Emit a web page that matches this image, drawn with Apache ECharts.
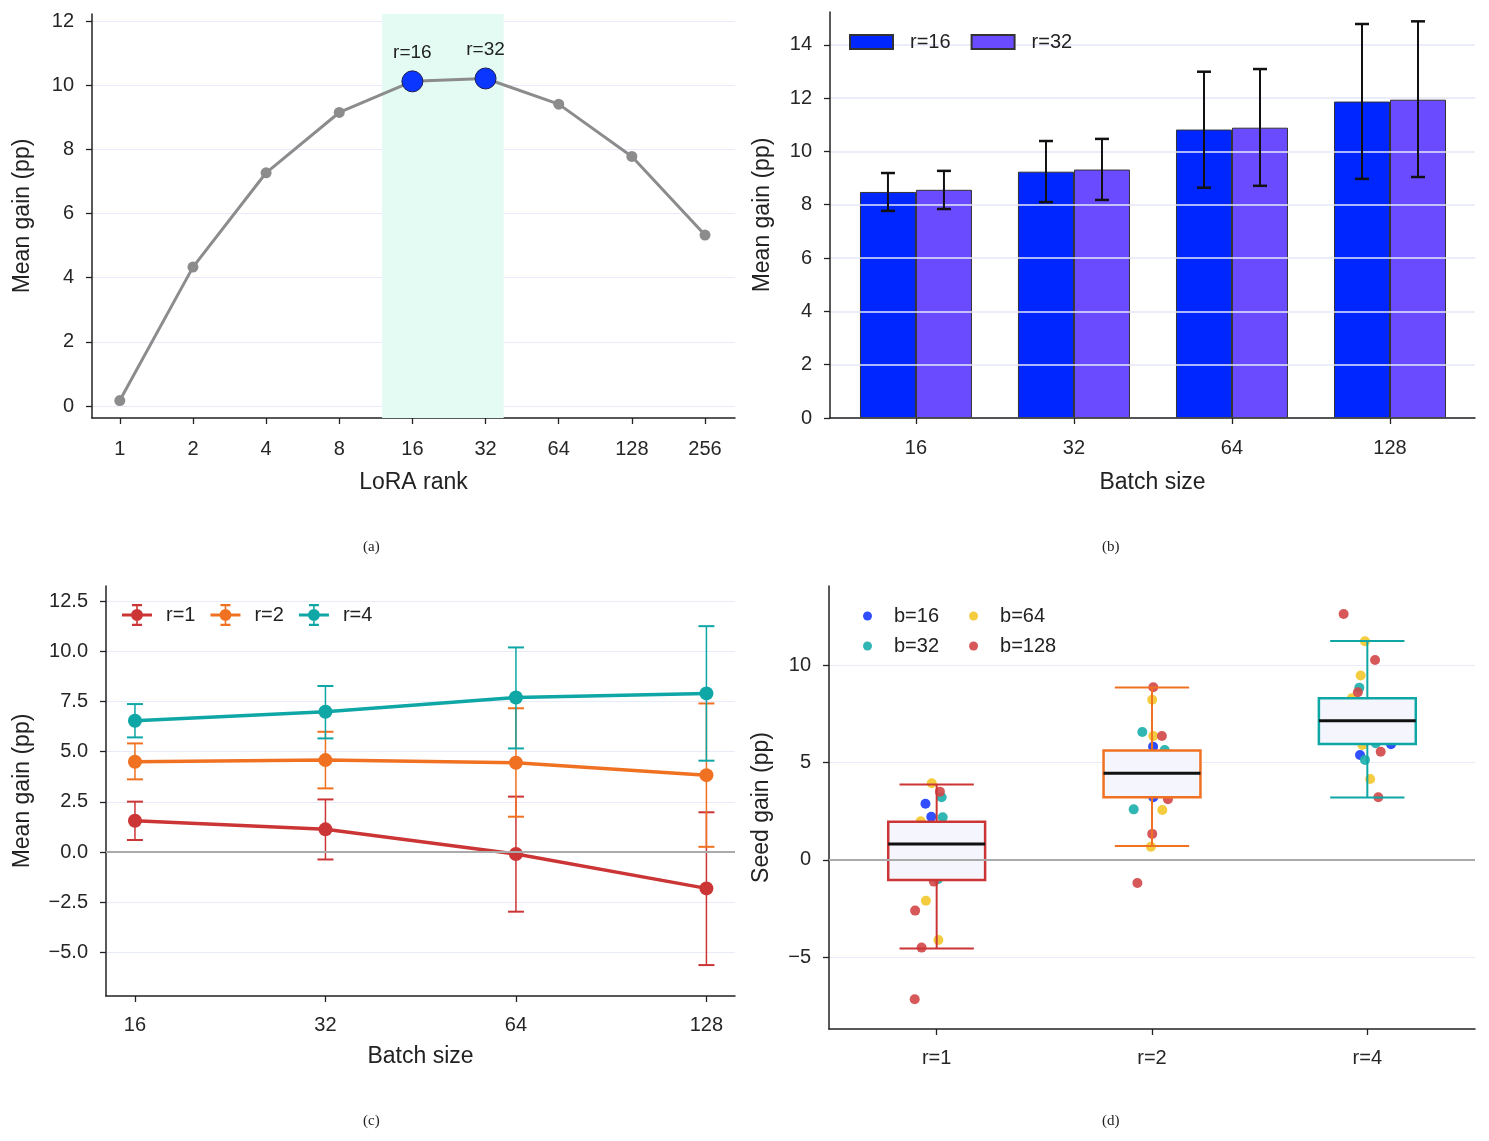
<!DOCTYPE html>
<html>
<head>
<meta charset="utf-8">
<script src="https://cdn.jsdelivr.net/npm/echarts@6.0.0/dist/echarts.min.js"></script>
<style>
  html, body { margin: 0; padding: 0; background: #fff; }
  #chart { width: 1489px; height: 1141px; }
</style>
</head>
<body>
<div id="chart"></div>
<script>
// (a) gain vs LoRA rank
const ranks = [1, 2, 4, 8, 16, 32, 64, 128, 256];
const rankGain = [0.17, 4.33, 7.27, 9.15, 10.12, 10.21, 9.41, 7.78, 5.33];
const bestRanks = [16, 32];
const shadeRanks = [12, 38];

// (b) batch size, r=16 vs r=32
const batchSizes = [16, 32, 64, 128];
const barR16 = [8.48, 9.24, 10.82, 11.87];
const barR32 = [8.56, 9.32, 10.89, 11.94];
const errR16Low = [7.77, 8.10, 8.64, 8.97];
const errR16High = [9.19, 10.39, 12.99, 14.78];
const errR32Low = [7.84, 8.18, 8.71, 9.04];
const errR32High = [9.27, 10.47, 13.09, 14.88];

// (c) small ranks vs batch size
const lineR1 = [1.56, 1.13, -0.10, -1.81];
const lineR1Low = [0.60, -0.37, -2.97, -5.63];
const lineR1High = [2.51, 2.62, 2.76, 1.98];
const lineR2 = [4.50, 4.58, 4.45, 3.83];
const lineR2Low = [3.62, 3.17, 1.76, 0.26];
const lineR2High = [5.41, 5.99, 7.16, 7.40];
const lineR4 = [6.54, 6.99, 7.70, 7.90];
const lineR4Low = [5.71, 5.66, 5.16, 4.55];
const lineR4High = [7.37, 8.27, 10.19, 11.25];

// (d) seed gains: box stats [whisker low, q1, median, q3, whisker high]
const boxRanks = ['r=1', 'r=2', 'r=4'];
const boxStats = [
  [-4.54, -1.03, 0.82, 1.96, 3.88],
  [0.72, 3.22, 4.46, 5.62, 8.86],
  [3.21, 5.95, 7.15, 8.31, 11.25]
];
// seed points [rank index + jitter, gain]
const seedB16 = [[-0.052, 2.89], [-0.025, 2.22], [1.005, 5.82], [1.006, 3.22], [2.11, 5.94], [1.966, 5.39]];
const seedB32 = [[0.023, 3.22], [0.028, 2.19], [0.006, -0.99], [0.955, 6.57], [1.059, 5.65], [0.915, 2.60],
  [1.963, 8.85], [2.039, 5.99], [1.989, 5.14]];
const seedB64 = [[-0.023, 3.94], [-0.074, 1.99], [-0.05, -2.09], [0.008, -4.11], [1.001, 8.23], [1.006, 6.37],
  [1.048, 2.57], [0.995, 0.68], [1.989, 11.23], [1.969, 9.47], [1.928, 8.30], [1.977, 5.91], [2.013, 4.16]];
const seedB128 = [[0.015, 3.51], [-0.013, -1.11], [-0.10, -2.60], [-0.07, -4.50], [-0.102, -7.15], [1.006, 8.87],
  [1.046, 6.37], [1.074, 3.12], [1.001, 1.34], [0.932, -1.18], [1.89, 12.63], [2.036, 10.27], [1.956, 8.61],
  [2.062, 5.56], [2.051, 3.22]];

const RED = '#cc3535', ORANGE = '#f07122', TEAL = '#0fa6a6';
const boxColors = [RED, ORANGE, TEAL];
const ink = '#222';
const gridColor = '#e8ebfa';

const chart = echarts.init(document.getElementById('chart'));

const minus = (s) => String(s).replace('-', '\u2212');

function yAxisBase(gridIndex, min, max, ticks, fmt, name, nameGap) {
  return {
    type: 'value', gridIndex, min, max,
    name, nameLocation: 'middle', nameGap, nameRotate: 90,
    nameTextStyle: { fontSize: 23, color: ink },
    axisLine: { show: true, onZero: false, lineStyle: { color: ink, width: 1.5 } },
    axisTick: { show: true, length: 6, lineStyle: { color: ink, width: 1.3 }, customValues: ticks },
    axisLabel: { fontSize: 20, color: '#262626', margin: 18, customValues: ticks, formatter: fmt },
    splitLine: { show: true, lineStyle: { color: gridColor, width: 1.2 } }
  };
}

function xAxisBase(gridIndex, min, max, ticks, fmt, name, nameGap, margin) {
  return {
    type: 'value', gridIndex, min, max,
    name, nameLocation: 'middle', nameGap,
    nameTextStyle: { fontSize: 23, color: ink },
    axisLine: { show: true, onZero: false, lineStyle: { color: ink, width: 1.5 } },
    axisTick: { show: true, length: 6, lineStyle: { color: ink, width: 1.3 }, customValues: ticks },
    axisLabel: { fontSize: 20, color: '#262626', margin, customValues: ticks, formatter: fmt },
    splitLine: { show: false }
  };
}

// vertical error bar with caps, optional pixel offset
function errorBar(color, lineW, capW, capThick, offsetPx) {
  return function (params, api) {
    const x = api.value(0);
    const lo = api.coord([x, api.value(1)]);
    const hi = api.coord([x, api.value(2)]);
    const cx = lo[0] + (offsetPx || 0);
    const h = capW / 2;
    return {
      type: 'group',
      children: [
        { type: 'line', shape: { x1: cx, y1: hi[1], x2: cx, y2: lo[1] }, style: { stroke: color, lineWidth: lineW } },
        { type: 'line', shape: { x1: cx - h, y1: hi[1], x2: cx + h, y2: hi[1] }, style: { stroke: color, lineWidth: capThick } },
        { type: 'line', shape: { x1: cx - h, y1: lo[1], x2: cx + h, y2: lo[1] }, style: { stroke: color, lineWidth: capThick } }
      ]
    };
  };
}

const idx = (arr) => arr.map((_, i) => i);
const pairs = (vals) => vals.map((v, i) => [i, v]);
const triples = (lo, hi) => lo.map((v, i) => [i, v, hi[i]]);

const errIcon = 'path://M0,9.5H30V12.5H0Z M14.2,1H15.8V21H14.2Z M10,0H20V2.2H10Z M10,19.8H20V22H10Z M9,11A6,6 0 1,1 21,11A6,6 0 1,1 9,11Z';

const zeroLine = {
  silent: true, symbol: 'none', label: { show: false },
  lineStyle: { color: '#aaaaaa', width: 2, type: 'solid' },
  data: [{ yAxis: 0 }]
};

function lineSeries(name, color, vals) {
  return {
    name, type: 'line', xAxisIndex: 2, yAxisIndex: 2, z: 4,
    data: pairs(vals), symbol: 'circle', symbolSize: 14,
    lineStyle: { color, width: 3.5 }, itemStyle: { color }
  };
}

function errSeries(name, color, lo, hi, xi, yi, lineW, capW, capThick, offset, z) {
  return {
    name, type: 'custom', xAxisIndex: xi, yAxisIndex: yi, z: z || 3, silent: true,
    renderItem: errorBar(color, lineW, capW, capThick, offset),
    encode: { x: 0, y: [1, 2] },
    data: triples(lo, hi)
  };
}

function seedSeries(name, color, data) {
  return {
    name, type: 'scatter', xAxisIndex: 3, yAxisIndex: 3, z: 2,
    symbolSize: 10, data, itemStyle: { color, opacity: 0.92 }
  };
}

const option = {
  animation: false,
  backgroundColor: '#fff',
  textStyle: { fontFamily: 'Liberation Sans, Arial, sans-serif' },
  grid: [
    { left: 92, top: 14, width: 643, height: 404 },
    { left: 830, top: 12, width: 645, height: 406 },
    { left: 106, top: 586, width: 629, height: 410 },
    { left: 829, top: 586, width: 646, height: 443 }
  ],
  xAxis: [
    xAxisBase(0, -0.38, 8.41, idx(ranks), (v) => String(ranks[Math.round(v)]), 'LoRA rank', 53, 21),
    Object.assign(xAxisBase(1, -0.544, 3.538, idx(batchSizes), (v) => String(batchSizes[Math.round(v)]), 'Batch size', 53, 20), { z: 4 }),
    xAxisBase(2, -0.152, 3.15, idx(batchSizes), (v) => String(batchSizes[Math.round(v)]), 'Batch size', 49, 19),
    xAxisBase(3, -0.5, 2.5, idx(boxRanks), (v) => boxRanks[Math.round(v)], '', 0, 19)
  ],
  yAxis: [
    yAxisBase(0, -0.374, 12.22, [0, 2, 4, 6, 8, 10, 12], (v) => String(v), 'Mean gain (pp)', 58),
    Object.assign(yAxisBase(1, 0, 15.23, [0, 2, 4, 6, 8, 10, 12, 14], (v) => String(v), 'Mean gain (pp)', 56),
      { z: 3, splitLine: { show: true, lineStyle: { color: '#e4e8f8', width: 1.5 } } }),
    yAxisBase(2, -7.17, 13.25, [-5, -2.5, 0, 2.5, 5, 7.5, 10, 12.5], (v) => minus(v.toFixed(1)), 'Mean gain (pp)', 72),
    yAxisBase(3, -8.68, 14.07, [-5, 0, 5, 10], (v) => minus(v), 'Seed gain (pp)', 56)
  ],
  legend: [
    {
      left: 844, top: 27, itemWidth: 43, itemHeight: 14, itemGap: 20, selectedMode: false,
      textStyle: { fontSize: 20, color: ink, padding: [0, 0, 0, 12] },
      data: [{ name: 'r=16', icon: 'rect' }, { name: 'r=32', icon: 'rect' }]
    },
    {
      left: 117, top: 599, itemWidth: 30, itemHeight: 22, itemGap: 15, selectedMode: false,
      textStyle: { fontSize: 20, color: ink, padding: [0, 0, 0, 9] },
      data: [{ name: 'r=1', icon: errIcon }, { name: 'r=2', icon: errIcon }, { name: 'r=4', icon: errIcon }]
    },
    {
      left: 858, top: 601, itemWidth: 43, itemHeight: 9, itemGap: 30, selectedMode: false,
      textStyle: { fontSize: 20, color: ink },
      data: ['b=16', 'b=64']
    },
    {
      left: 858, top: 631, itemWidth: 43, itemHeight: 9, itemGap: 30, selectedMode: false,
      textStyle: { fontSize: 20, color: ink },
      data: ['b=32', 'b=128']
    }
  ],
  graphic: [
    { type: 'text', left: 363, top: 540, style: { text: '(a)', font: '15px "Liberation Serif", serif', fill: ink } },
    { type: 'text', left: 1102, top: 540, style: { text: '(b)', font: '15px "Liberation Serif", serif', fill: ink } },
    { type: 'text', left: 363, top: 1114, style: { text: '(c)', font: '15px "Liberation Serif", serif', fill: ink } },
    { type: 'text', left: 1102, top: 1114, style: { text: '(d)', font: '15px "Liberation Serif", serif', fill: ink } }
  ],
  series: [
    // (a)
    {
      name: 'rank sweep', type: 'line', xAxisIndex: 0, yAxisIndex: 0, z: 3,
      data: ranks.map((r, i) => [Math.log2(r), rankGain[i]]),
      symbol: 'circle', symbolSize: 11,
      lineStyle: { color: '#8c8c8c', width: 3 }, itemStyle: { color: '#8c8c8c' },
      markArea: {
        silent: true, itemStyle: { color: '#e4fbf4' },
        data: [[{ xAxis: Math.log2(shadeRanks[0]) }, { xAxis: Math.log2(shadeRanks[1]) }]]
      }
    },
    {
      name: 'best ranks', type: 'scatter', xAxisIndex: 0, yAxisIndex: 0, z: 5,
      data: bestRanks.map((r) => [Math.log2(r), rankGain[ranks.indexOf(r)], r]),
      symbolSize: 21,
      itemStyle: { color: '#0a36ff', borderColor: '#1c1c50', borderWidth: 1, opacity: 1 },
      label: {
        show: true, position: 'top', distance: 8, fontSize: 19, color: ink,
        formatter: (p) => 'r=' + p.value[2]
      }
    },
    // (b)
    {
      name: 'r=16', type: 'bar', xAxisIndex: 1, yAxisIndex: 1, z: 2,
      data: pairs(barR16), barWidth: 56, barGap: '0%',
      itemStyle: { color: '#0026ff', borderColor: '#333', borderWidth: 1 }
    },
    {
      name: 'r=32', type: 'bar', xAxisIndex: 1, yAxisIndex: 1, z: 2,
      data: pairs(barR32), barWidth: 56, barGap: '0%',
      itemStyle: { color: '#6a4bff', borderColor: '#333', borderWidth: 1 }
    },
    errSeries('err r=16', '#111', errR16Low, errR16High, 1, 1, 2, 14, 2.5, -28, 5),
    errSeries('err r=32', '#111', errR32Low, errR32High, 1, 1, 2, 14, 2.5, 28, 5),
    // (c)
    errSeries('err r=1', RED, lineR1Low, lineR1High, 2, 2, 1.5, 16, 2, 0, 3),
    errSeries('err r=2', ORANGE, lineR2Low, lineR2High, 2, 2, 1.5, 16, 2, 0, 3),
    errSeries('err r=4', TEAL, lineR4Low, lineR4High, 2, 2, 1.5, 16, 2, 0, 3),
    Object.assign(lineSeries('r=1', RED, lineR1), { markLine: zeroLine }),
    lineSeries('r=2', ORANGE, lineR2),
    lineSeries('r=4', TEAL, lineR4),
    // (d)
    Object.assign(seedSeries('b=16', '#1f40ff', seedB16), { markLine: zeroLine }),
    seedSeries('b=32', '#1eb0ac', seedB32),
    seedSeries('b=64', '#f3c82f', seedB64),
    seedSeries('b=128', '#d24a4a', seedB128),
    {
      name: 'seed boxes', type: 'custom', xAxisIndex: 3, yAxisIndex: 3, z: 4, silent: true,
      encode: { x: 0, y: [1, 2, 3, 4, 5] },
      data: boxStats.map((s, i) => [i].concat(s)),
      renderItem: (params, api) => {
        const i = api.value(0);
        const color = boxColors[params.dataIndex];
        const bw = api.size([0.45, 0])[0];
        const cw = api.size([0.345, 0])[0];
        const p = [1, 2, 3, 4, 5].map((k) => api.coord([i, api.value(k)]));
        const cx = p[0][0];
        const st = { stroke: color, lineWidth: 2 };
        return {
          type: 'group',
          children: [
            { type: 'line', shape: { x1: cx, y1: p[3][1], x2: cx, y2: p[4][1] }, style: st },
            { type: 'line', shape: { x1: cx, y1: p[1][1], x2: cx, y2: p[0][1] }, style: st },
            { type: 'line', shape: { x1: cx - cw / 2, y1: p[4][1], x2: cx + cw / 2, y2: p[4][1] }, style: st },
            { type: 'line', shape: { x1: cx - cw / 2, y1: p[0][1], x2: cx + cw / 2, y2: p[0][1] }, style: st },
            {
              type: 'rect',
              shape: { x: cx - bw / 2, y: p[3][1], width: bw, height: p[1][1] - p[3][1] },
              style: { fill: '#f4f5fd', stroke: color, lineWidth: 2.5 }
            },
            {
              type: 'line', shape: { x1: cx - bw / 2, y1: p[2][1], x2: cx + bw / 2, y2: p[2][1] },
              style: { stroke: '#111', lineWidth: 3 }
            }
          ]
        };
      }
    }
  ]
};

chart.setOption(option);
window.addEventListener('resize', () => chart.resize());
</script>
</body>
</html>
